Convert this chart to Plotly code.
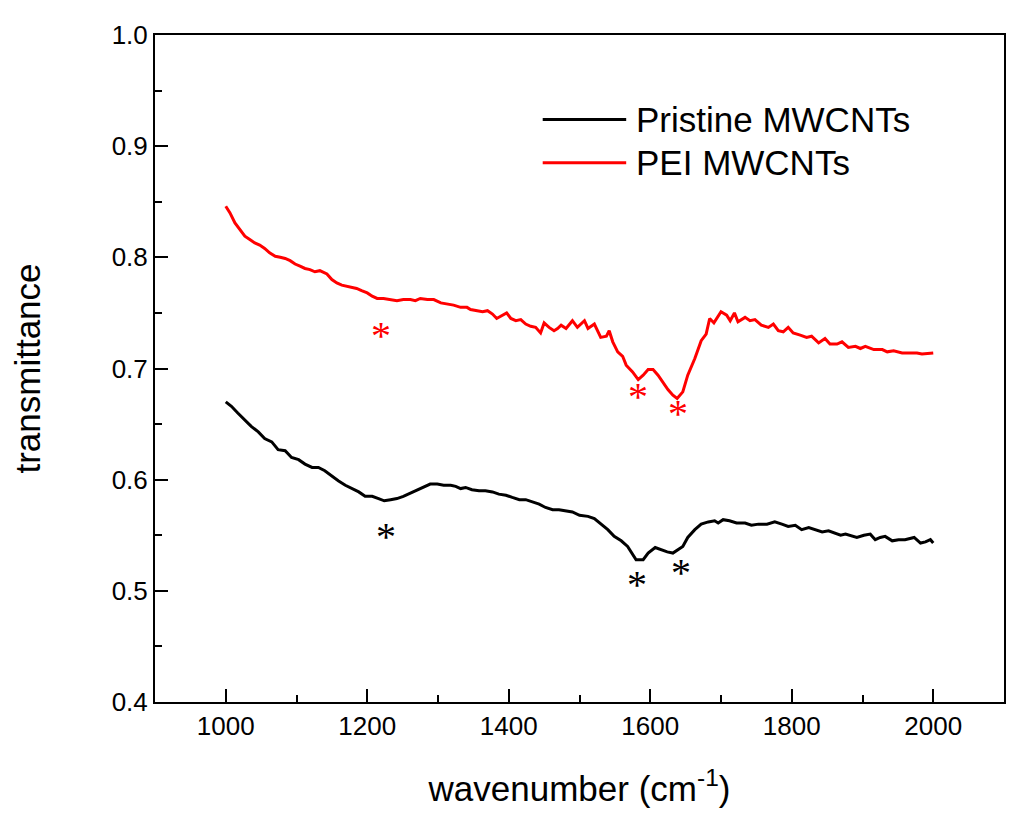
import plotly.graph_objects as go

# FTIR spectra, values
pristine_x = [1000, 1008, 1017, 1027, 1036, 1046, 1055, 1065, 1074, 1084, 1093, 1103, 1112,
              1122, 1131, 1140, 1150, 1159, 1169, 1178, 1188, 1197, 1207, 1216, 1224, 1233,
              1242, 1251, 1261, 1270, 1280, 1289, 1299, 1308, 1318, 1325, 1332, 1339, 1348,
              1358, 1367, 1377, 1386, 1396, 1405, 1415, 1424, 1434, 1443, 1452, 1462, 1471,
              1481, 1490, 1500, 1512, 1521, 1530, 1540, 1549, 1559, 1568, 1575, 1580, 1590,
              1597, 1607, 1616, 1624, 1632, 1639, 1646, 1653, 1663, 1672, 1682, 1691, 1696,
              1703, 1712, 1722, 1734, 1743, 1753, 1765, 1776, 1786, 1795, 1805, 1814, 1824,
              1833, 1843, 1852, 1861, 1869, 1876, 1885, 1892, 1902, 1911, 1918, 1925, 1932,
              1942, 1951, 1960, 1973, 1982, 1989, 1996, 2000]
pristine_y = [0.670, 0.666, 0.660, 0.654, 0.648, 0.643, 0.637, 0.634, 0.627, 0.626, 0.620,
              0.618, 0.614, 0.611, 0.611, 0.608, 0.603, 0.599, 0.595, 0.592, 0.589, 0.585,
              0.585, 0.583, 0.581, 0.582, 0.583, 0.585, 0.588, 0.591, 0.594, 0.596, 0.596,
              0.595, 0.595, 0.594, 0.592, 0.593, 0.591, 0.590, 0.590, 0.589, 0.587, 0.586,
              0.584, 0.582, 0.582, 0.580, 0.578, 0.575, 0.573, 0.573, 0.572, 0.571, 0.568,
              0.567, 0.565, 0.560, 0.555, 0.549, 0.545, 0.540, 0.533, 0.528, 0.528, 0.534,
              0.539, 0.537, 0.535, 0.534, 0.537, 0.540, 0.548, 0.555, 0.560, 0.562, 0.563,
              0.561, 0.564, 0.563, 0.561, 0.561, 0.559, 0.560, 0.560, 0.562, 0.560, 0.558,
              0.559, 0.555, 0.557, 0.555, 0.553, 0.554, 0.552, 0.550, 0.551, 0.549, 0.548,
              0.550, 0.551, 0.546, 0.548, 0.549, 0.545, 0.546, 0.546, 0.548, 0.543, 0.544,
              0.546, 0.543]

pei_x = [1000, 1006, 1013, 1020, 1027, 1034, 1041, 1048, 1055, 1062, 1070, 1077, 1084,
         1091, 1098, 1105, 1112, 1119, 1126, 1133, 1143, 1150, 1157, 1164, 1171, 1178,
         1185, 1192, 1200, 1207, 1214, 1223, 1233, 1242, 1251, 1261, 1268, 1275, 1285,
         1294, 1304, 1313, 1322, 1332, 1341, 1346, 1356, 1363, 1370, 1377, 1383, 1391,
         1397, 1403, 1410, 1417, 1424, 1431, 1438, 1445, 1450, 1457, 1464, 1469, 1474,
         1481, 1490, 1497, 1507, 1512, 1521, 1530, 1538, 1542, 1547, 1554, 1561, 1566,
         1575, 1583, 1590, 1597, 1604, 1611, 1618, 1625, 1632, 1638, 1646, 1653, 1663,
         1672, 1679, 1684, 1690, 1700, 1708, 1713, 1719, 1724, 1734, 1741, 1748, 1757,
         1767, 1774, 1781, 1788, 1795, 1802, 1812, 1821, 1828, 1838, 1847, 1854, 1864,
         1871, 1880, 1890, 1897, 1904, 1916, 1928, 1935, 1944, 1956, 1968, 1977, 1984,
         1994, 2000]
pei_y = [0.846, 0.840, 0.831, 0.825, 0.819, 0.816, 0.813, 0.811, 0.808, 0.804, 0.801,
         0.800, 0.799, 0.797, 0.794, 0.792, 0.790, 0.789, 0.787, 0.788, 0.785, 0.780,
         0.777, 0.775, 0.774, 0.773, 0.772, 0.770, 0.768, 0.765, 0.763, 0.763, 0.762,
         0.761, 0.762, 0.762, 0.761, 0.763, 0.762, 0.762, 0.759, 0.758, 0.757, 0.755,
         0.755, 0.753, 0.752, 0.751, 0.752, 0.749, 0.745, 0.748, 0.750, 0.745, 0.743,
         0.744, 0.740, 0.738, 0.737, 0.732, 0.741, 0.737, 0.734, 0.736, 0.739, 0.736,
         0.743, 0.737, 0.743, 0.736, 0.740, 0.728, 0.729, 0.734, 0.724, 0.715, 0.711,
         0.703, 0.697, 0.690, 0.694, 0.699, 0.699, 0.694, 0.687, 0.681, 0.676, 0.673,
         0.679, 0.694, 0.709, 0.725, 0.731, 0.745, 0.741, 0.751, 0.748, 0.743, 0.750,
         0.742, 0.746, 0.743, 0.744, 0.739, 0.737, 0.740, 0.734, 0.733, 0.737, 0.732,
         0.730, 0.728, 0.729, 0.723, 0.727, 0.722, 0.722, 0.724, 0.719, 0.720, 0.718,
         0.720, 0.717, 0.717, 0.715, 0.716, 0.714, 0.714, 0.714, 0.713, 0.714, 0.714]

# peak markers (*)
pei_star_x = [1220, 1582, 1639]
pei_star_y = [0.731, 0.676, 0.660]
pristine_star_x = [1226, 1581, 1643]
pristine_star_y = [0.550, 0.507, 0.517]

series_names = ["Pristine MWCNTs", "PEI MWCNTs"]
series_colors = ["#000000", "#ff0000"]

x_ticks = [1000, 1200, 1400, 1600, 1800, 2000]
y_ticks = [0.4, 0.5, 0.6, 0.7, 0.8, 0.9, 1.0]
y_tick_text = [f"{v:.1f}" for v in y_ticks]

FONT = "Arial, Liberation Sans, sans-serif"

fig = go.Figure()
fig.add_trace(go.Scatter(x=pristine_x, y=pristine_y, mode="lines", name=series_names[0],
                         line=dict(color=series_colors[0], width=3), showlegend=False))
fig.add_trace(go.Scatter(x=pei_x, y=pei_y, mode="lines", name=series_names[1],
                         line=dict(color=series_colors[1], width=3), showlegend=False))

for xs, ys, col in [(pristine_star_x, pristine_star_y, series_colors[0]),
                    (pei_star_x, pei_star_y, series_colors[1])]:
    for sx, sy in zip(xs, ys):
        fig.add_annotation(x=sx, y=sy, text="*", showarrow=False, yshift=-1,
                           font=dict(family="Liberation Serif, serif", size=40, color=col))

# hand-drawn legend (long line samples like the original)
for i, (name, col) in enumerate(zip(series_names, series_colors)):
    ry = 0.924 - i * 0.039
    fig.add_shape(type="line", x0=1448, x1=1566, y0=ry, y1=ry, xref="x", yref="y",
                  line=dict(color=col, width=3))
    fig.add_annotation(x=1577, y=ry, text=name, showarrow=False, xanchor="left",
                       font=dict(family=FONT, size=35, color="black"))

axis_common = dict(showline=True, linecolor="black", linewidth=2, mirror=True,
                   ticks="inside", tickcolor="black", tickwidth=2, ticklen=13,
                   showgrid=False, zeroline=False,
                   tickfont=dict(family=FONT, size=26, color="black"))

fig.update_xaxes(range=[900, 2100], tickvals=x_ticks,
                 minor=dict(ticks="inside", ticklen=7, tickwidth=2, tickcolor="black",
                            dtick=100, tick0=1000, showgrid=False),
                 title=dict(text="wavenumber (cm<sup>-1</sup>)", standoff=36,
                            font=dict(family=FONT, size=35, color="black")),
                 **axis_common)
fig.update_yaxes(range=[0.4, 1.0], tickvals=y_ticks, ticktext=y_tick_text,
                 minor=dict(ticks="inside", ticklen=7, tickwidth=2, tickcolor="black",
                            dtick=0.05, tick0=0.4, showgrid=False),
                 title=dict(text="transmittance", standoff=64,
                            font=dict(family=FONT, size=35, color="black")),
                 **axis_common)

fig.update_layout(width=1024, height=818,
                  margin=dict(l=147, r=28, t=22, b=124),
                  plot_bgcolor="white", paper_bgcolor="white",
                  showlegend=False)

fig.write_html("out.html")
